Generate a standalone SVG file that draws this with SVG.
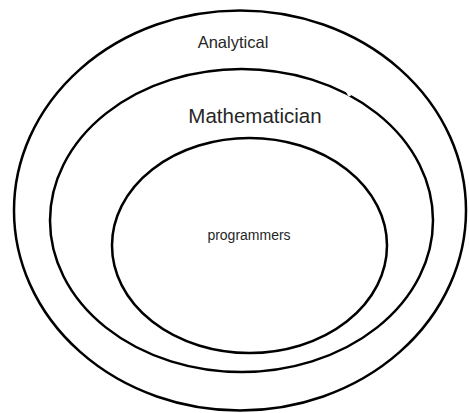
<svg xmlns="http://www.w3.org/2000/svg" width="469" height="413" viewBox="0 0 469 413">
<style>
.ring{fill:none;stroke:#000;stroke-width:2.5}
.lbl{font-family:"Liberation Sans",Arial,sans-serif;fill:#262626;text-anchor:middle}
</style>
<rect width="469" height="413" fill="#fff"/>
<g id="analytical">
<ellipse class="ring" cx="240" cy="210.5" rx="226" ry="200"/>
<text class="lbl" x="233" y="48" font-size="16.5">Analytical</text>
</g>
<g id="mathematician">
<ellipse class="ring" cx="241.5" cy="220.5" rx="191.5" ry="151.5"/>
<line x1="346" y1="89" x2="350" y2="96" stroke="#fff" stroke-width="3"/>
<text class="lbl" x="255" y="123" font-size="20.5">Mathematician</text>
</g>
<g id="programmers">
<ellipse class="ring" cx="249.5" cy="245.5" rx="137.5" ry="107.5"/>
<text class="lbl" x="249" y="240" font-size="14">programmers</text>
</g>
<g id="connectors"/>
</svg>
